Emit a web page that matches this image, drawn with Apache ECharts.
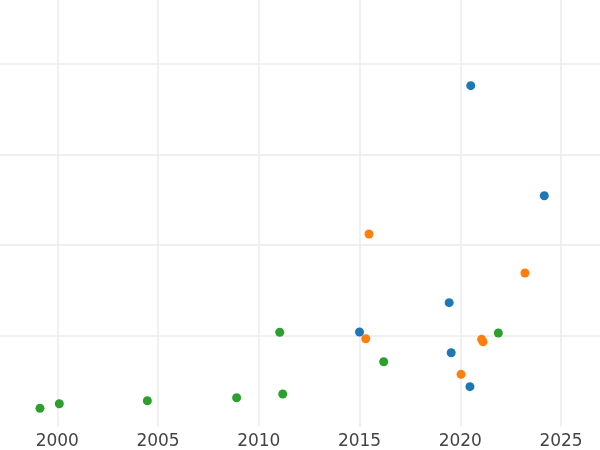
<!DOCTYPE html>
<html>
<head>
<meta charset="utf-8">
<script src="https://cdn.jsdelivr.net/npm/echarts@6/dist/echarts.min.js"></script>
<style>html,body{margin:0;padding:0;background:#fff}#c{width:600px;height:450px}</style>
</head>
<body>
<div id="c"></div>
<script>
const blueX = [2020.52, 2024.17, 2019.45, 2015.0, 2019.55, 2020.48];
const blueY = [3.757, 2.545, 1.367, 1.044, 0.816, 0.442];
const orangeX = [2015.47, 2023.21, 2015.31, 2021.06, 2021.13, 2020.04];
const orangeY = [2.123, 1.694, 0.970, 0.963, 0.937, 0.578];
const greenX = [1999.14, 2000.10, 2004.47, 2008.90, 2011.04, 2011.19, 2016.20, 2021.89];
const greenY = [0.204, 0.254, 0.287, 0.320, 1.041, 0.361, 0.717, 1.033];
const colors = ['#1f77b4', '#ff7f0e', '#2ca02c'];

function pairs(xs, ys) { return xs.map((x, i) => [x, ys[i]]); }

const chart = echarts.init(document.getElementById('c'), null, {renderer: 'canvas'});
const gridStyle = {show: true, lineStyle: {color: '#ebebeb', width: 1.5}, showMinLine: false, showMaxLine: false};
chart.setOption({
  animation: false,
  backgroundColor: '#fff',
  grid: {left: -43.45, right: -61.75, top: -27.2, bottom: 23.2, containLabel: false, outerBoundsMode: 'none'},
  xAxis: {
    type: 'value', min: 1995, max: 2030, interval: 5,
    axisLine: {show: false}, axisTick: {show: false},
    axisLabel: {color: '#444', fontSize: 17, fontFamily: 'DejaVu Sans', margin: 6, showMinLabel: false, showMaxLabel: false,
      formatter: v => String(v)},
    splitLine: gridStyle
  },
  yAxis: {
    type: 'value', min: 0, max: 5, interval: 1,
    axisLine: {show: false}, axisTick: {show: false}, axisLabel: {show: false},
    splitLine: gridStyle
  },
  series: [
    {type: 'scatter', data: pairs(blueX, blueY), symbolSize: 9, itemStyle: {color: colors[0], opacity: 1}},
    {type: 'scatter', data: pairs(orangeX, orangeY), symbolSize: 9, itemStyle: {color: colors[1], opacity: 1}},
    {type: 'scatter', data: pairs(greenX, greenY), symbolSize: 9, itemStyle: {color: colors[2], opacity: 1}}
  ]
});
</script>
</body>
</html>
